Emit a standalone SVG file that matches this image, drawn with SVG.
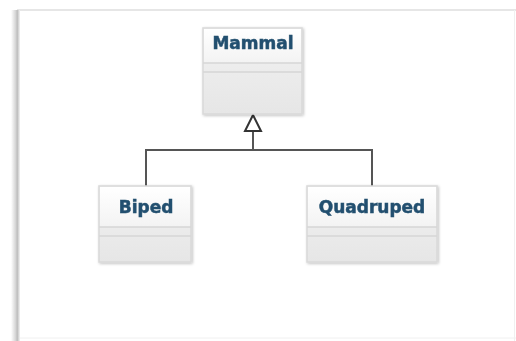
<svg xmlns="http://www.w3.org/2000/svg" width="516" height="341" viewBox="0 0 516 341">
  <defs>
    <linearGradient id="headFill" x1="0" y1="0" x2="0" y2="1">
      <stop offset="0" stop-color="#ffffff"/>
      <stop offset="1" stop-color="#f3f3f3"/>
    </linearGradient>
    <linearGradient id="bodyFill" x1="0" y1="0" x2="0" y2="1">
      <stop offset="0" stop-color="#f2f2f2"/>
      <stop offset="1" stop-color="#e6e6e6"/>
    </linearGradient>
    <linearGradient id="edgeShade" x1="0" y1="0" x2="1" y2="0">
      <stop offset="0" stop-color="#ffffff"/>
      <stop offset="0.5" stop-color="#d6d6d6"/>
      <stop offset="0.7" stop-color="#bdbdbd"/>
      <stop offset="1" stop-color="#f4f4f4"/>
    </linearGradient>
    <filter id="soft" x="-10%" y="-10%" width="130%" height="130%">
      <feGaussianBlur in="SourceAlpha" stdDeviation="1.5"/>
      <feOffset dx="1" dy="1" result="b"/>
      <feComponentTransfer><feFuncA type="linear" slope="0.25"/></feComponentTransfer>
      <feMerge><feMergeNode/><feMergeNode in="SourceGraphic"/></feMerge>
    </filter>
  </defs>
  <style>
    .box { fill: url(#bodyFill); stroke: #d9d9d9; stroke-width: 1.5; }
    .head { fill: url(#headFill); }
    .sep { stroke: #d6d6d6; stroke-width: 1.5; }
    .name { font-family: "DejaVu Sans", Verdana, sans-serif; font-weight: bold; font-size: 17px; fill: #23506f; stroke: #23506f; stroke-width: 0.5; text-anchor: middle; }
    .link { fill: none; stroke: #555555; stroke-width: 2; }
    .head-arrow { fill: #ffffff; stroke: #333333; stroke-width: 2; stroke-linejoin: miter; }
  </style>

  <!-- canvas frame -->
  <rect x="0" y="0" width="516" height="341" fill="#ffffff"/>
  <line x1="17" y1="10" x2="516" y2="10" stroke="#e6e6e6" stroke-width="2"/>
  <line x1="17" y1="338" x2="516" y2="338" stroke="#f0f0f0" stroke-width="1"/>
  <line x1="514.5" y1="10" x2="514.5" y2="341" stroke="#f0f0f0" stroke-width="1"/>
  <rect x="11" y="10" width="9" height="331" fill="url(#edgeShade)"/>

  <!-- connectors: generalisation tree with hollow triangle head -->
  <g id="connectors">
    <polyline class="link" points="146,186 146,150 372,150 372,186"/>
    <line class="link" x1="253" y1="150" x2="253" y2="131"/>
    <polygon class="head-arrow" points="253,115 245,131 261,131"/>
  </g>

  <g id="mammal" filter="url(#soft)">
    <rect class="box" x="203" y="28" width="99" height="86"/>
    <rect class="head" x="204" y="29" width="97" height="34"/>
    <line class="sep" x1="203" y1="63" x2="302" y2="63"/>
    <line class="sep" x1="203" y1="72" x2="302" y2="72"/>
    <text class="name" x="253" y="49">Mammal</text>
  </g>

  <g id="biped" filter="url(#soft)">
    <rect class="box" x="99" y="186" width="92" height="76"/>
    <rect class="head" x="100" y="187" width="90" height="40"/>
    <line class="sep" x1="99" y1="227" x2="191" y2="227"/>
    <line class="sep" x1="99" y1="236" x2="191" y2="236"/>
    <text class="name" x="146" y="213">Biped</text>
  </g>

  <g id="quadruped" filter="url(#soft)">
    <rect class="box" x="307" y="186" width="130" height="76"/>
    <rect class="head" x="308" y="187" width="128" height="40"/>
    <line class="sep" x1="307" y1="227" x2="437" y2="227"/>
    <line class="sep" x1="307" y1="236" x2="437" y2="236"/>
    <text class="name" x="372" y="213">Quadruped</text>
  </g>
</svg>
